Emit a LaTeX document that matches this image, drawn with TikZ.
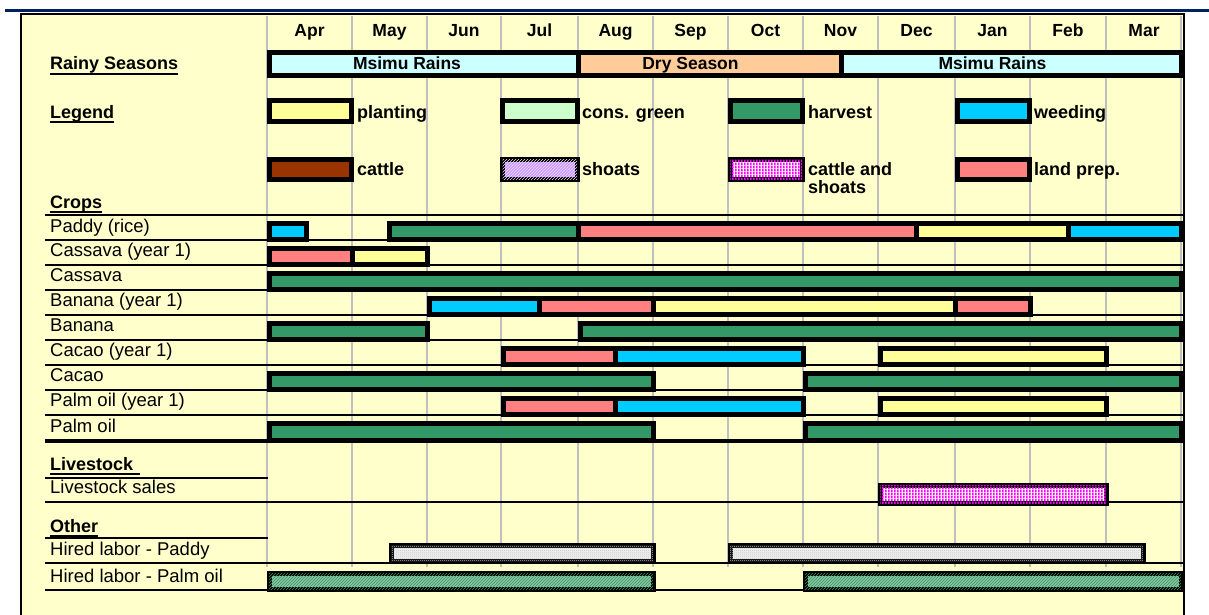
\documentclass[tikz,border=0pt]{standalone}
\usepackage{fontspec}
\setmainfont{Liberation Sans}
\usetikzlibrary{patterns}
\definecolor{bg}{HTML}{FFFFCC}
\definecolor{navy}{HTML}{002060}
\definecolor{gridc}{HTML}{C0C0C0}
\definecolor{plant}{HTML}{FFFF99}
\definecolor{consg}{HTML}{CCFFCC}
\definecolor{harv}{HTML}{339966}
\definecolor{weed}{HTML}{00CCFF}
\definecolor{cattlec}{HTML}{993300}
\definecolor{shoatc}{HTML}{CC99FF}
\definecolor{landp}{HTML}{FF8080}
\definecolor{rainc}{HTML}{CCFFFF}
\definecolor{dryc}{HTML}{FFCC99}
\definecolor{magc}{HTML}{FF00FF}
\definecolor{chkg}{HTML}{8CC4A0}
\pgfdeclarepatternformonly{vstripes}{\pgfpointorigin}{\pgfpoint{3pt}{3pt}}{\pgfpoint{3pt}{3pt}}{\pgfpathrectangle{\pgfpointorigin}{\pgfpoint{2pt}{3pt}}\pgfusepath{fill}}
\pgfdeclarepatternformonly{checker}{\pgfpointorigin}{\pgfpoint{2pt}{2pt}}{\pgfpoint{2pt}{2pt}}{\pgfpathrectangle{\pgfpointorigin}{\pgfpoint{1pt}{1pt}}\pgfpathrectangle{\pgfpoint{1pt}{1pt}}{\pgfpoint{1pt}{1pt}}\pgfusepath{fill}}
\newcommand{\bseg}[5]{\draw[gbar,#1] (#2,#4) rectangle (#3,#5);}
\tikzset{
  gbar/.style={draw=black,line width=5pt},
  lab/.style={font=\fontsize{18.5}{20}\selectfont,inner sep=0pt,anchor=base west},
  hd/.style={font=\bfseries\fontsize{18}{20}\selectfont,inner sep=0pt,anchor=base west},
  mon/.style={font=\bfseries\fontsize{17.5}{20}\selectfont,inner sep=0pt,anchor=base},
  leg/.style={font=\bfseries\fontsize{18}{18}\selectfont,inner sep=0pt,anchor=base west},
  rowline/.style={line width=2.4pt,black},
  gridl/.style={line width=2.5pt,gridc},
  uline/.style={line width=2pt,black},
  stripes/.style={fill=white,postaction={pattern=vstripes,pattern color=magc}},
  shoatf/.style={fill=shoatc,postaction={pattern=north east lines,pattern color=white!70!shoatc}},
  dotf/.style={fill=gray!12,postaction={pattern=checker,pattern color=gray!40}},
  greenchk/.style={fill=chkg,postaction={pattern=north east lines,pattern color=harv}},
}
\begin{document}
\begin{tikzpicture}[x=1pt,y=-1pt]
\useasboundingbox (0,0) rectangle (1209,615);
\fill[white] (0,0) rectangle (1209,615);
% panel
\fill[bg] (21,14) rectangle (1184,615);
\draw[navy,line width=3pt] (5,11) -- (1209,11);
\draw[black,line width=2pt] (21,615) -- (21,14) -- (1184,14) -- (1184,615);
% grid lines
\foreach \gx in {267,352,427,501,578,653,728,803,878,955,1030,1106,1181}
  \draw[gridl] (\gx,16) -- (\gx,567);
% row lines
\foreach \ly in {215,240,265,290,315,340,365,390,415,502,563,590}
  \draw[rowline] (45,\ly) -- (1183,\ly);
\draw[line width=3.5pt] (45,441) -- (1183,441);
\draw[rowline] (45,478) -- (268,478);
\draw[rowline] (45,538) -- (268,538);
% months
\node[mon] (m1) at (309.5,37) {Apr};
\node[mon] (m2) at (389.5,37) {May};
\node[mon] (m3) at (464,37) {Jun};
\node[mon] (m4) at (539.5,37) {Jul};
\node[mon] (m5) at (615.5,37) {Aug};
\node[mon] (m6) at (690.5,37) {Sep};
\node[mon] (m7) at (765.5,37) {Oct};
\node[mon] (m8) at (840.5,37) {Nov};
\node[mon] (m9) at (916.5,37) {Dec};
\node[mon] (m10) at (992.5,37) {Jan};
\node[mon] (m11) at (1068,37) {Feb};
\node[mon] (m12) at (1144,37) {Mar};
% seasons
\draw[gbar,fill=rainc] (269,52.5) rectangle (578,75.5);
\draw[gbar,fill=dryc] (578,52.5) rectangle (841,75.5);
\draw[gbar,fill=rainc] (841,52.5) rectangle (1181,75.5);
\node[mon] (s1) at (407,69.5) {Msimu Rains};
\node[mon] (s2) at (690.5,69.5) {Dry Season};
\node[mon] (s3) at (992.5,69.5) {Msimu Rains};
% headings
\node[hd] (h1) at (50,70) {Rainy Seasons};
\node[hd] (h2) at (50,118) {Legend};
\node[hd] (h3) at (50,208.5) {Crops};
\node[hd] (h4) at (50,470) {Livestock};
\node[hd] (h5) at (50,532) {Other};
\draw[uline] ([yshift=-4pt]h1.base west) -- ([yshift=-4pt]h1.base east);
\draw[uline] ([yshift=-4pt]h2.base west) -- ([yshift=-4pt]h2.base east);
\draw[uline] ([yshift=-3.5pt]h3.base west) -- ([yshift=-3.5pt]h3.base east);
\draw[uline] ([yshift=-3.5pt]h4.base west) -- ([yshift=-3.5pt,xshift=7pt]h4.base east);
\draw[uline] ([yshift=-3.5pt]h5.base west) -- ([yshift=-3.5pt]h5.base east);
% legend
\draw[gbar,fill=plant] (269.5,100.5) rectangle (351.5,121.5);
\draw[gbar,fill=consg] (502.5,100.5) rectangle (577,121.5);
\draw[gbar,fill=harv] (730,100.5) rectangle (802,121.5);
\draw[gbar,fill=weed] (957,100.5) rectangle (1029,121.5);
\draw[gbar,fill=cattlec] (269.5,159.5) rectangle (351.5,179);
\draw[gbar,shoatf] (502.5,159.5) rectangle (577,179);
\draw[gbar,stripes] (730,159.5) rectangle (802,179);
\draw[gbar,fill=landp] (957,159.5) rectangle (1029,179);
\node[leg] (l1) at (357,119) {planting};
\node[leg] (l2) at (582,119) {cons. green};
\node[leg] (l3) at (808,119) {harvest};
\node[leg] (l4) at (1034,119) {weeding};
\node[leg] (l5) at (357,175) {cattle};
\node[leg] (l6) at (582,175) {shoats};
\node[leg,anchor=north west,align=left] (l7) at (808,162) {cattle and\\shoats};
\node[leg] (l8) at (1034,175) {land prep.};
% row labels
\node[lab] (r1) at (50,232) {Paddy (rice)};
\node[lab] (r2) at (50,256.5) {Cassava (year 1)};
\node[lab] (r3) at (50,281) {Cassava};
\node[lab] (r4) at (50,306) {Banana (year 1)};
\node[lab] (r5) at (50,331.5) {Banana};
\node[lab] (r6) at (50,356.5) {Cacao (year 1)};
\node[lab] (r7) at (50,381.5) {Cacao};
\node[lab] (r8) at (50,406.5) {Palm oil (year 1)};
\node[lab] (r9) at (50,432) {Palm oil};
\node[lab] (r10) at (50,493) {Livestock sales};
\node[lab] (r11) at (50,555) {Hired labor - Paddy};
\node[lab] (r12) at (50,582) {Hired labor - Palm oil};
% bars
\bseg{fill=weed}{269}{306}{223.5}{239.5}
\bseg{fill=harv}{389}{578}{223.5}{239.5}
\bseg{fill=landp}{578}{916}{223.5}{239.5}
\bseg{fill=plant}{916}{1068}{223.5}{239.5}
\bseg{fill=weed}{1068}{1181}{223.5}{239.5}
\bseg{fill=landp}{269}{352}{248.5}{264.5}
\bseg{fill=plant}{352}{427}{248.5}{264.5}
\bseg{fill=harv}{269}{1181}{273.5}{289.5}
\bseg{fill=weed}{429}{539}{298.5}{314.5}
\bseg{fill=landp}{539}{653}{298.5}{314.5}
\bseg{fill=plant}{653}{955}{298.5}{314.5}
\bseg{fill=landp}{955}{1030}{298.5}{314.5}
\bseg{fill=harv}{269}{427}{323.5}{339.5}
\bseg{fill=harv}{580}{1181}{323.5}{339.5}
\bseg{fill=landp}{503}{615}{348.5}{364.5}
\bseg{fill=weed}{615}{803}{348.5}{364.5}
\bseg{fill=plant}{880}{1106}{348.5}{364.5}
\bseg{fill=harv}{269}{653}{373.5}{389.5}
\bseg{fill=harv}{805}{1181}{373.5}{389.5}
\bseg{fill=landp}{503}{615}{398.5}{414.5}
\bseg{fill=weed}{615}{803}{398.5}{414.5}
\bseg{fill=plant}{880}{1106}{398.5}{414.5}
\bseg{fill=harv}{269}{653}{423.5}{440}
\bseg{fill=harv}{805}{1181}{423.5}{440}
\bseg{stripes}{880}{1106}{485.5}{503.5}
\bseg{dotf}{391}{653}{545.5}{561.5}
\bseg{dotf}{730}{1143}{545.5}{561.5}
\bseg{greenchk}{269}{653}{573.5}{589.5}
\bseg{greenchk}{805}{1181}{573.5}{589.5}
\end{tikzpicture}
\end{document}
